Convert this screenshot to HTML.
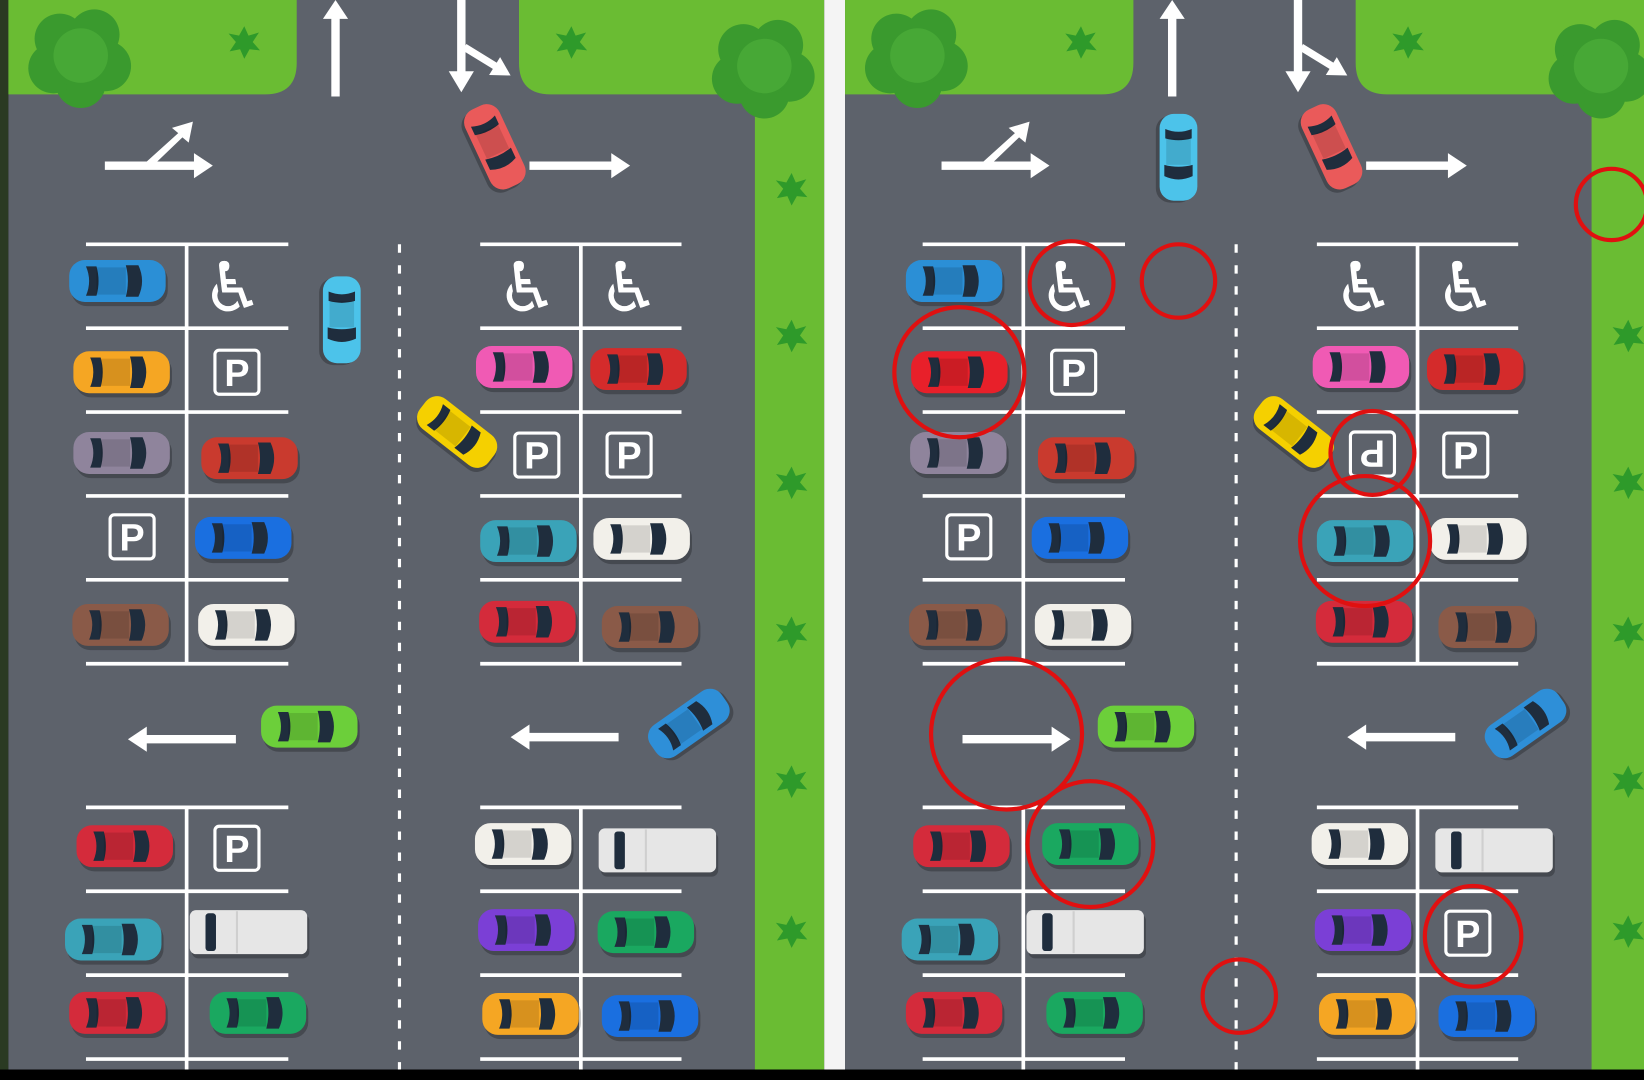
<!DOCTYPE html>
<html><head><meta charset="utf-8"><style>
html,body{margin:0;padding:0;background:#000;}
svg{display:block;}
text{font-family:"Liberation Sans","DejaVu Sans",sans-serif;}
</style></head><body>
<svg width="1644" height="1080" viewBox="0 0 1568 1030" preserveAspectRatio="none" xmlns="http://www.w3.org/2000/svg">
<defs>
<symbol id="car" viewBox="-50 -24 100 48" overflow="visible">
  <rect x="-46" y="-19" width="92" height="40" rx="15" fill="#000" opacity="0.25" transform="translate(2,3)"/>
  <rect x="-46" y="-20" width="92" height="40" rx="15" fill="currentColor"/>
  <path d="M-30,-14 Q-24,0 -30,14 L-20,14 Q-16,0 -20,-14Z" fill="#1f2d3d"/>
  <path d="M8,-15 L20,-15 Q27,0 20,15 L8,15 Q12,0 8,-15Z" fill="#1f2d3d"/>
  <rect x="-20" y="-13" width="28" height="26" fill="#000" opacity="0.12"/>
</symbol>
<symbol id="van" viewBox="-60 -24 120 48" overflow="visible">
  <rect x="-55" y="-20" width="112" height="42" rx="6" fill="#000" opacity="0.25" transform="translate(2,3)"/>
  <rect x="-55" y="-21" width="112" height="42" rx="6" fill="#e6e6e6"/>
  <rect x="-40" y="-18" width="10" height="36" rx="3" fill="#1f2d3d"/>
  <line x1="-10" y1="-20" x2="-10" y2="20" stroke="#cfcfcf" stroke-width="2"/>
</symbol>
<symbol id="tree" viewBox="-50 -50 100 100" overflow="visible">
  <g fill="#3a9a2e">
    <circle cx="-18" cy="-18" r="24"/><circle cx="15" cy="-22" r="24"/><circle cx="26" cy="8" r="24"/>
    <circle cx="2" cy="24" r="24"/><circle cx="-24" cy="10" r="24"/><circle cx="0" cy="0" r="28"/>
  </g>
  <circle cx="2" cy="-2" r="26" fill="#47a836"/>
</symbol>
<symbol id="bush" viewBox="-20 -20 40 40" overflow="visible">
  <path d="M0,-15 L4,-6 L14,-9 L8,0 L15,8 L5,7 L0,16 L-4,7 L-14,9 L-8,0 L-15,-8 L-5,-6Z" fill="#2e9a2a"/>
</symbol>
<symbol id="P" viewBox="-24 -24 48 48" overflow="visible">
  <rect x="-21" y="-21" width="42" height="42" rx="4" fill="none" stroke="#fff" stroke-width="3"/>
  <text x="0" y="13" text-anchor="middle" font-size="36" font-weight="bold" fill="#fff">P</text>
</symbol>
<symbol id="wc" viewBox="-24 -24 48 48" overflow="visible">
  <text x="0" y="22" text-anchor="middle" font-size="66" fill="#fff" font-family="DejaVu Sans">♿</text>
</symbol>
<g id="base">
  <rect x="8" y="0" width="778" height="1020" fill="#5d626b"/>
  <path d="M8,0 H283 V60 Q283,90 253,90 H8Z" fill="#6abc33"/>
  <path d="M495,0 H786 V1020 H720 V90 H525 Q495,90 495,60Z" fill="#6abc33"/>
  <use href="#tree" x="25" y="5" width="100" height="100"/>
  <use href="#tree" x="677" y="15" width="100" height="100"/>
  <use href="#bush" x="213" y="20" width="40" height="40"/>
  <use href="#bush" x="525" y="20" width="40" height="40"/>
  <use href="#bush" x="735" y="300" width="40" height="40"/>
  <use href="#bush" x="735" y="440" width="40" height="40"/>
  <use href="#bush" x="735" y="583" width="40" height="40"/>
  <use href="#bush" x="735" y="725" width="40" height="40"/>
  <use href="#bush" x="735" y="868" width="40" height="40"/>
  <g stroke="#fff" stroke-width="3.5">
    <path d="M82,233H275M82,313H275M82,393H275M82,473H275M82,553H275M82,633H275M178,233V633"/>
    <path d="M458,233H650M458,313H650M458,393H650M458,473H650M458,553H650M458,633H650M554,233V633"/>
    <path d="M82,770H275M82,850H275M82,930H275M82,1010H275M178,770V1020"/>
    <path d="M458,770H650M458,850H650M458,930H650M458,1010H650M554,770V1020"/>
    <line x1="381" y1="233" x2="381" y2="1020" stroke-width="3" stroke-dasharray="8,12"/>
  </g>
  <g fill="#fff">
    <path d="M316,92 V18 H308 L320,0 L332,18 H324 V92Z"/>
    <rect x="436" y="0" width="8" height="70"/>
    <polygon points="428,68 452,68 440,88"/>
    <polygon points="466.5,71.5 487,72 477,54.5"/>
    <path d="M100,154 H140 L170,127 L164,122 L184,116 L180,136 L174,131 L150,154 H185 V146 L203,158 L185,170 V162 H100Z"/>
    <path d="M505,154 H583 V146 L601,158 L583,170 V162 H505Z"/>
  </g>
  <line x1="443" y1="45" x2="474" y2="64" stroke="#fff" stroke-width="7"/>
  <use href="#wc" x="198" y="251" width="48" height="48"/>
  <use href="#wc" x="479" y="251" width="48" height="48"/>
  <use href="#wc" x="576" y="251" width="48" height="48"/>
  <use href="#P" x="202" y="331" width="48" height="48"/>
  <use href="#P" x="102" y="488" width="48" height="48"/>
  <use href="#P" x="576" y="410" width="48" height="48"/>
  <use href="#car" x="62" y="244" width="100" height="48" style="color:#2b8fd6"/>
  <use href="#car" x="66" y="408" width="100" height="48" style="color:#8f849c"/>
  <use href="#car" x="188" y="413" width="100" height="48" style="color:#c93a2e"/>
  <use href="#car" x="182" y="489" width="100" height="48" style="color:#1a6fe0"/>
  <use href="#car" x="65" y="572" width="100" height="48" style="color:#8a5a48"/>
  <use href="#car" x="185" y="572" width="100" height="48" style="color:#f2f0ea"/>
  <g transform="translate(472,140) rotate(65)"><use href="#car" x="-45" y="-22" width="90" height="44" style="color:#ea5a5a"/></g>
  <g transform="translate(436,412) rotate(38)"><use href="#car" x="-45" y="-22" width="90" height="44" style="color:#f5d000"/></g>
  <use href="#car" x="450" y="326" width="100" height="48" style="color:#f05ab4"/>
  <use href="#car" x="559" y="328" width="100" height="48" style="color:#d42b2b"/>
  <use href="#car" x="454" y="492" width="100" height="48" style="color:#3aa3b8"/>
  <use href="#car" x="562" y="490" width="100" height="48" style="color:#f2f0ea"/>
  <use href="#car" x="453" y="569" width="100" height="48" style="color:#d42b3b"/>
  <use href="#car" x="570" y="574" width="100" height="48" style="color:#8a5a48"/>
  <use href="#car" x="245" y="669" width="100" height="48" style="color:#6ccf3a"/>
  <g transform="translate(657,690) rotate(-35)"><use href="#car" x="-45" y="-22" width="90" height="44" style="color:#2e8fd8"/></g>
  <use href="#car" x="69" y="783" width="100" height="48" style="color:#d42b3b"/>
  <use href="#car" x="58" y="872" width="100" height="48" style="color:#3aa3b8"/>
  <use href="#van" x="176" y="865" width="120" height="48"/>
  <use href="#car" x="62" y="942" width="100" height="48" style="color:#d42b3b"/>
  <use href="#car" x="196" y="942" width="100" height="48" style="color:#1aa860"/>
  <use href="#car" x="449" y="781" width="100" height="48" style="color:#f2f0ea"/>
  <use href="#van" x="566" y="787" width="120" height="48"/>
  <use href="#car" x="452" y="863" width="100" height="48" style="color:#7b3fd6"/>
  <use href="#car" x="456" y="943" width="100" height="48" style="color:#f5a623"/>
  <use href="#car" x="570" y="945" width="100" height="48" style="color:#1a6fe0"/>
</g>
</defs>
<rect width="1568" height="1030" fill="#000"/>
<rect x="0" y="0" width="8" height="1020" fill="#2a3a22"/>
<rect x="786" y="0" width="20" height="1020" fill="#f4f4f4"/>
<use href="#base"/>
<use href="#bush" x="735" y="160" width="40" height="40"/>
<g transform="translate(326,305) rotate(90)"><use href="#car" x="-45" y="-22" width="90" height="44" style="color:#4cc3ea"/></g>
<use href="#car" x="66" y="331" width="100" height="48" style="color:#f5a623"/>
<use href="#P" x="488" y="410" width="48" height="48"/>
<path fill="#fff" d="M225,701 H140 V693 L122,705 L140,717 V709 H225Z"/>
<path fill="#fff" d="M590,699 H505 V691 L487,703 L505,715 V707 H590Z"/>
<use href="#P" x="202" y="785" width="48" height="48"/>
<use href="#car" x="566" y="865" width="100" height="48" style="color:#1aa860"/>
<rect x="806" y="0" width="762" height="1020" fill="#5d626b"/>
<g transform="translate(798,0)">
<use href="#base"/>
<g transform="translate(326,150) rotate(90)"><use href="#car" x="-45" y="-22" width="90" height="44" style="color:#4cc3ea"/></g>
<use href="#car" x="67" y="331" width="100" height="48" style="color:#e8202a"/>
<rect x="490" y="412" width="42" height="42" rx="4" fill="none" stroke="#fff" stroke-width="3"/>
<text x="511" y="446" text-anchor="middle" font-size="36" font-weight="bold" fill="#fff" transform="rotate(180 511 433)">P</text>
<path fill="#fff" d="M120,701 H205 V693 L223,705 L205,717 V709 H120Z"/>
<path fill="#fff" d="M590,699 H505 V691 L487,703 L505,715 V707 H590Z"/>
<use href="#car" x="192" y="781" width="100" height="48" style="color:#1aa860"/>
<use href="#P" x="578" y="866" width="48" height="48"/>
</g>
<g fill="none" stroke="#e01010" stroke-width="4">
  <circle cx="1022" cy="270" r="40"/>
  <circle cx="1124" cy="268" r="35"/>
  <circle cx="1537" cy="195" r="34"/>
  <circle cx="915" cy="355" r="62"/>
  <circle cx="1309" cy="432" r="40"/>
  <circle cx="1302" cy="516" r="62"/>
  <circle cx="960" cy="700" r="72"/>
  <circle cx="1040" cy="805" r="60"/>
  <ellipse cx="1405" cy="893" rx="46" ry="48"/>
  <circle cx="1182" cy="950" r="35"/>
</g>
</svg>
</body></html>
